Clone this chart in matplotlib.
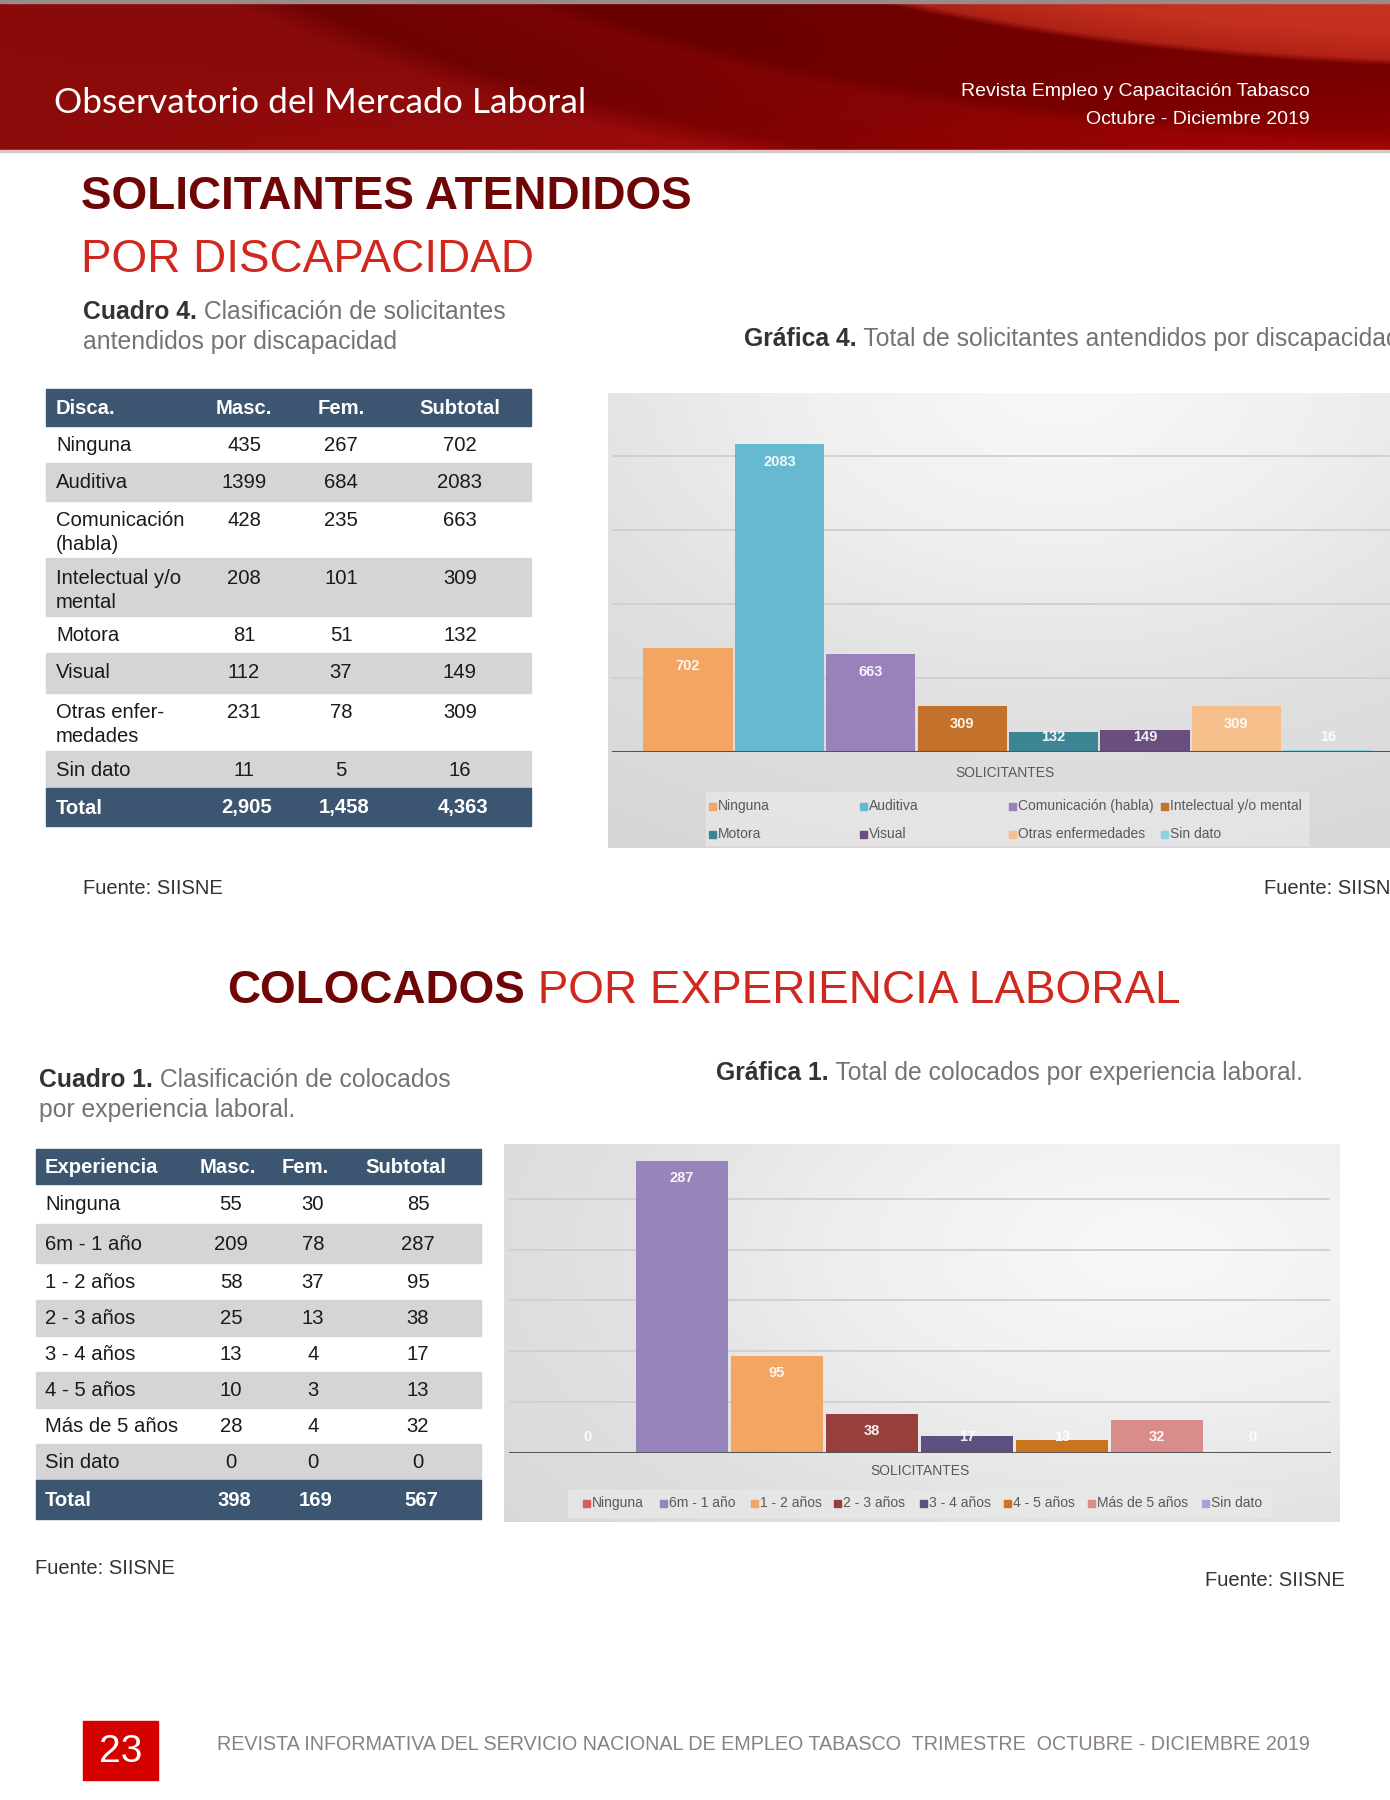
import numpy as np
import matplotlib
matplotlib.use('Agg')
import matplotlib.pyplot as plt
from matplotlib.patches import Rectangle

W, H = 1390, 1800

# ---- data ----
disc_labels = ['Ninguna', 'Auditiva', 'Comunicación\n(habla)', 'Intelectual y/o\nmental',
               'Motora', 'Visual', 'Otras enfer-\nmedades', 'Sin dato']
disc_masc = [435, 1399, 428, 208, 81, 112, 231, 11]
disc_fem = [267, 684, 235, 101, 51, 37, 78, 5]
disc_sub = [702, 2083, 663, 309, 132, 149, 309, 16]
disc_legend = ['Ninguna', 'Auditiva', 'Comunicación (habla)', 'Intelectual y/o mental',
               'Motora', 'Visual', 'Otras enfermedades', 'Sin dato']
disc_colors = ['#F4A562', '#66B9D0', '#9A81B9', '#C4712B', '#3D8494', '#6A4F7E', '#F6BE8A', '#8ED2E2']
disc_grid = [500, 1000, 1500, 2000]

exp_labels = ['Ninguna', '6m - 1 año', '1 - 2 años', '2 - 3 años', '3 - 4 años',
              '4 - 5 años', 'Más de 5 años', 'Sin dato']
exp_masc = [55, 209, 58, 25, 13, 10, 28, 0]
exp_fem = [30, 78, 37, 13, 4, 3, 4, 0]
exp_sub = [85, 287, 95, 38, 17, 13, 32, 0]
exp_legend = ['Ninguna', '6m - 1 año', '1 - 2 años', '2 - 3 años', '3 - 4 años',
              '4 - 5 años', 'Más de 5 años', 'Sin dato']
exp_colors = ['#D65E5E', '#9784BB', '#F2A662', '#963F3D', '#5D4F7E', '#C9751E', '#D98D8B', '#A99FD3']
exp_grid = [50, 100, 150, 200, 250]
# la gráfica 1 muestra 0 en Ninguna aunque la tabla diga 85
exp_chart = [0, 287, 95, 38, 17, 13, 32, 0]

NAVY = '#3C5570'
GRAYROW = '#D5D5D7'
DARKRED = '#6E0606'
RED = '#D0281E'
SANS = ['Liberation Sans', 'DejaVu Sans']
NARROW = ['Liberation Sans Narrow', 'Liberation Sans', 'DejaVu Sans']
TFS = 14.6   # tamaño de letra de las tablas
CFS = 17.8   # títulos de cuadros / gráficas

fig = plt.figure(figsize=(W / 100, H / 100), dpi=100)
page = fig.add_axes([0, 0, 1, 1])
page.axis('off')


def box(x0, y0, x1, y1):
    return [x0 / W, 1 - y1 / H, (x1 - x0) / W, (y1 - y0) / H]


# ---- header band ----
yy, xx = np.mgrid[0:150, 0:W].astype(float)
d = np.sqrt((xx - 1500) ** 2 + 9 * (yy + 300) ** 2)
bp = [600, 1000, 1080, 1100, 1300, 1340, 1500, 1560, 2100]
R = np.interp(d, bp, [215, 195, 172, 112, 104, 122, 108, 136, 142])
G = np.interp(d, bp, [64, 48, 34, 0, 0, 4, 2, 10, 10])
B = np.interp(d, bp, [42, 30, 22, 0, 0, 4, 2, 10, 10])
R = R + 45 * (yy / 150) ** 2 * (xx / W)
img = np.clip(np.dstack([R, G, B]) / 255, 0, 1)
page.imshow(img, extent=(0, W, 150, 0), aspect='auto', zorder=0)
page.add_patch(Rectangle((0, 0), W, 3, color='#9a8a8a', zorder=1))
page.add_patch(Rectangle((0, 150), W, 2, color='#d8c8c8', zorder=1))

page.text(54, 103, 'Observatorio del Mercado Laboral', color='white', fontsize=25.5,
          family=['Lato', 'DejaVu Sans'], va='center', ha='left')
page.text(1310, 92, 'Revista Empleo y Capacitación Tabasco', color='white', fontsize=14,
          family=SANS, va='center', ha='right')
page.text(1310, 119, 'Octubre - Diciembre 2019', color='white', fontsize=14,
          family=SANS, va='center', ha='right')

# ---- headings ----
page.text(81, 197, 'SOLICITANTES ATENDIDOS', color=DARKRED, fontsize=33, fontweight='bold',
          family=SANS, va='center')
page.text(81, 260, 'POR DISCAPACIDAD', color=RED, fontsize=33, family=SANS, va='center')

t = page.text(83, 312, 'Cuadro 4.', color='#333333', fontsize=CFS, fontweight='bold',
              family=SANS, va='center')
page.annotate(' Clasificación de solicitantes', xycoords=t, xy=(1, 0.5), va='center',
              color='#777272', fontsize=CFS, family=SANS)
page.text(83, 342, 'antendidos por discapacidad', color='#777272', fontsize=CFS,
          family=SANS, va='center')

t = page.text(744, 339, 'Gráfica 4.', color='#333333', fontsize=CFS, fontweight='bold',
              family=SANS, va='center')
page.annotate(' Total de solicitantes antendidos por discapacidad', xycoords=t, xy=(1, 0.5),
              va='center', color='#777272', fontsize=CFS, family=SANS, annotation_clip=False)

t = page.text(227, 991, 'COLOCADOS', color=DARKRED, fontsize=33, fontweight='bold',
              family=SANS, va='center')
page.annotate(' POR EXPERIENCIA LABORAL', xycoords=t, xy=(1, 0.5), va='center',
              color=RED, fontsize=33, family=SANS)

t = page.text(39, 1080, 'Cuadro 1.', color='#333333', fontsize=CFS, fontweight='bold',
              family=SANS, va='center')
page.annotate(' Clasificación de colocados', xycoords=t, xy=(1, 0.5), va='center',
              color='#777272', fontsize=CFS, family=SANS)
page.text(39, 1110, 'por experiencia laboral.', color='#777272', fontsize=CFS,
          family=SANS, va='center')

t = page.text(716, 1073, 'Gráfica 1.', color='#333333', fontsize=CFS, fontweight='bold',
              family=SANS, va='center')
page.annotate(' Total de colocados por experiencia laboral.', xycoords=t, xy=(1, 0.5),
              va='center', color='#777272', fontsize=CFS, family=SANS)


# ---- tables ----
def draw_table(x0, x1, header, hdr_top, edges, labels, masc, fem, sub, cols, hcols):
    hdr_bot = edges[0]
    page.add_patch(Rectangle((x0, hdr_top), x1 - x0, hdr_bot - hdr_top, color=NAVY, zorder=1))
    hy = (hdr_top + hdr_bot) / 2 + 1
    page.text(cols[0], hy, header[0], color='white', fontsize=TFS, fontweight='bold',
              family=SANS, va='center', zorder=2)
    for name, cx in zip(header[1:], hcols):
        page.text(cx, hy, name, color='white', fontsize=TFS, fontweight='bold',
                  family=SANS, va='center', ha='center', zorder=2)
    for i, lab in enumerate(labels):
        top, bot = edges[i], edges[i + 1]
        if i % 2 == 1:
            page.add_patch(Rectangle((x0, top), x1 - x0, bot - top, color=GRAYROW, zorder=1))
        cy = min((top + bot) / 2, top + 19) + 1
        for k, line in enumerate(lab.split('\n')):
            page.text(cols[0], cy + 24 * k, line, color='#1a1a1a', fontsize=TFS,
                      family=SANS, va='center', zorder=2)
        for val, cx in zip((masc[i], fem[i], sub[i]), cols[1:]):
            page.text(cx, cy, str(val), color='#1a1a1a', fontsize=TFS,
                      family=SANS, va='center', ha='center', zorder=2)
    top, bot = edges[-2], edges[-1]
    page.add_patch(Rectangle((x0, top), x1 - x0, bot - top, color=NAVY, zorder=1))
    ty = (top + bot) / 2 + 1
    page.text(cols[0], ty, 'Total', color='white', fontsize=TFS, fontweight='bold',
              family=SANS, va='center', zorder=2)
    for vals, cx in zip((masc, fem, sub), cols[1:]):
        page.text(cx + 3, ty, '{:,}'.format(sum(vals)), color='white', fontsize=TFS,
                  fontweight='bold', family=SANS, va='center', ha='center', zorder=2)


draw_table(46, 531, ['Disca.', 'Masc.', 'Fem.', 'Subtotal'], 389,
           [426, 463, 501, 558, 616, 653, 693, 751, 788, 826],
           disc_labels, disc_masc, disc_fem, disc_sub,
           [56, 244, 341, 460], [244, 341, 460])
draw_table(36, 481, ['Experiencia', 'Masc.', 'Fem.', 'Subtotal'], 1149,
           [1184, 1224, 1263, 1300, 1336, 1372, 1408, 1444, 1480, 1519],
           exp_labels, exp_masc, exp_fem, exp_sub,
           [45, 231, 313, 418], [228, 305, 406])

page.text(83, 888, 'Fuente: SIISNE', color='#333333', fontsize=14.5, family=SANS, va='center')
page.text(1264, 888, 'Fuente: SIISNE', color='#333333', fontsize=14.5, family=SANS, va='center')
page.text(35, 1569, 'Fuente: SIISNE', color='#333333', fontsize=14.5, family=SANS, va='center')
page.text(1205, 1580, 'Fuente: SIISNE', color='#333333', fontsize=14.5, family=SANS, va='center')


# ---- chart backgrounds ----
def gray_bg(x0, y0, x1, y1, cx, cy, rx, ry):
    gy, gx = np.mgrid[y0:y1, x0:x1].astype(float)
    r = np.sqrt(((gx - cx) / rx) ** 2 + ((gy - cy) / ry) ** 2)
    g = np.interp(r, [0, 0.5, 1.0, 1.6], [0.975, 0.94, 0.88, 0.84])
    page.imshow(np.dstack([g, g, g]), extent=(x0, x1, y1, y0), aspect='auto', zorder=0)


gray_bg(608, 393, W, 848, 1060, 380, 520, 330)
gray_bg(504, 1144, 1340, 1522, 1150, 1250, 560, 300)


def bar_chart(rect, vals, colors, ylim, xlim, grid, gx, off, floor):
    ax = fig.add_axes(box(*rect))
    ax.set_facecolor('none')
    ax.set_xlim(*xlim)
    ax.set_ylim(0, ylim)
    ax.axis('off')
    for g in grid:
        ax.axhline(g, xmin=gx[0], xmax=gx[1], color='#cfcfcf', lw=1.3, zorder=1)
    x = np.arange(len(vals))
    ax.bar(x, vals, width=0.975, color=colors, zorder=2)
    ax.axhline(0, xmin=gx[0], xmax=gx[1], color='#555555', lw=2.2, zorder=3)
    for xi, v in zip(x, vals):
        ax.text(xi, max(v - off, floor), str(v), color='white', alpha=0.92, fontsize=10.5,
                fontweight='bold', family=NARROW, ha='center', va='center', zorder=4)
    return ax


# Gráfica 4: cero en y=752, 2083 en y=444 -> 0.1479 px por unidad
bar_chart((608, 393, W, 752), disc_sub, disc_colors, (752 - 393) / 0.1479,
          (-0.875, 7.68), disc_grid, (0.006, 1.0), 122, 100)
# Gráfica 1: cero en y=1453, 287 en y=1161
bar_chart((504, 1144, 1340, 1453), exp_chart, exp_colors, (1453 - 1144) / 1.017,
          (-0.874, 7.926), exp_grid, (0.007, 0.987), 16.7, 15.7)

page.text(1005, 773, 'SOLICITANTES', color='#595959', fontsize=10, family=NARROW,
          ha='center', va='center')
page.text(920, 1471, 'SOLICITANTES', color='#595959', fontsize=10, family=NARROW,
          ha='center', va='center')

# leyendas
page.add_patch(Rectangle((706, 792), 602, 53, color='#e9e9e9', alpha=0.7, zorder=1))
leg_x = [712, 863, 1012, 1164]
for i, (lab, c) in enumerate(zip(disc_legend, disc_colors)):
    lx, ly = leg_x[i % 4], 806 + 28 * (i // 4)
    page.add_patch(Rectangle((lx - 3, ly - 3), 6.5, 6.5, color=c, zorder=2))
    page.text(lx + 6, ly, lab, color='#595959', fontsize=10, family=NARROW,
              va='center', zorder=2)

page.add_patch(Rectangle((568, 1490), 704, 27, color='#e9e9e9', alpha=0.7, zorder=1))
leg_x2 = [586, 663, 754, 837, 923, 1007, 1091, 1205]
for lx, lab, c in zip(leg_x2, exp_legend, exp_colors):
    page.add_patch(Rectangle((lx - 3, 1500), 6.5, 6.5, color=c, zorder=2))
    page.text(lx + 6, 1503, lab, color='#595959', fontsize=10, family=NARROW,
              va='center', zorder=2)

# ---- pie de página ----
page.add_patch(Rectangle((83, 1721), 75, 59, color='#D40000', zorder=1))
page.text(120.5, 1752, '23', color='white', fontsize=28, family=SANS,
          ha='center', va='center', zorder=2)
page.text(217, 1744, 'REVISTA INFORMATIVA DEL SERVICIO NACIONAL DE EMPLEO TABASCO  '
          'TRIMESTRE  OCTUBRE - DICIEMBRE 2019', color='#8a8080', fontsize=14.2,
          family=NARROW, va='center')

page.set_xlim(0, W)
page.set_ylim(H, 0)
fig.savefig('out.png', dpi=100)
